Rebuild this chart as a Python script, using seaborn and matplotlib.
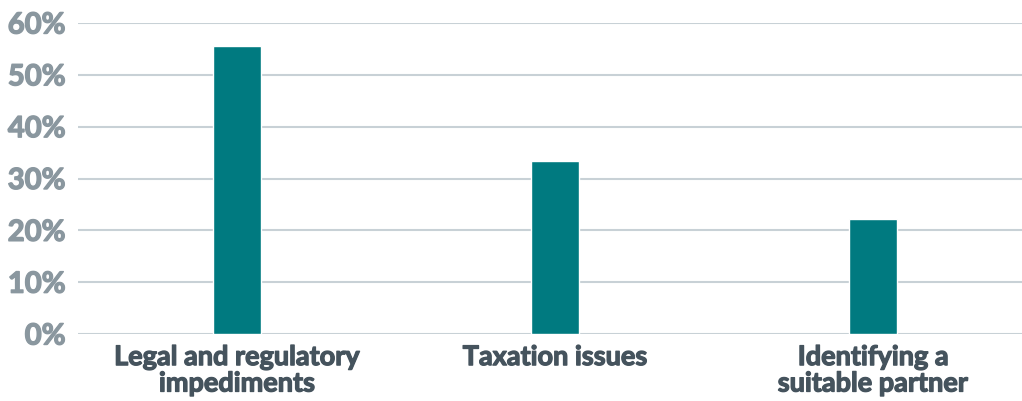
import matplotlib
matplotlib.use("Agg")
import matplotlib.pyplot as plt
import matplotlib.patheffects as pe
import seaborn as sns
import pandas as pd
from matplotlib.ticker import PercentFormatter

categories = ["Legal and regulatory\nimpediments", "Taxation issues", "Identifying a\nsuitable partner"]
shares = [0.556, 0.333, 0.222]
y_ticks = [0.0, 0.1, 0.2, 0.3, 0.4, 0.5, 0.6]

sns.set_theme(style="white")
plt.rcParams["font.family"] = ["Lato", "DejaVu Sans"]

df = pd.DataFrame({"category": categories, "share": shares})

fig = plt.figure(figsize=(10.22, 4.01), dpi=100)
ax = fig.add_axes([78 / 1022, 67 / 401, 944 / 1022, 311 / 401])

sns.barplot(data=df, x="category", y="share", color="#007A80", width=0.15,
            saturation=1, ax=ax, zorder=3)

ax.set_xlim(-0.5, -0.5 + 944 / 318)
ax.set_ylim(0, 0.6)
ax.set_yticks(y_ticks)
ax.yaxis.set_major_formatter(PercentFormatter(1.0, decimals=0))
ax.grid(axis="y", color="#C8D1D6", linewidth=1.5, zorder=0)
ax.set_axisbelow(True)
for s in ax.spines.values():
    s.set_visible(False)
ax.set_xlabel("")
ax.set_ylabel("")
ax.tick_params(axis="y", length=0, pad=9, labelsize=21, labelcolor="#8A979F")
ax.tick_params(axis="x", length=0, pad=8, labelsize=19.5, labelcolor="#45535D")
for lbl in ax.get_yticklabels():
    lbl.set_fontweight("bold")
    lbl.set_path_effects([pe.withStroke(linewidth=1.0, foreground="#8A979F")])
for lbl in ax.get_xticklabels():
    lbl.set_fontweight("bold")
    lbl.set_linespacing(1.12)
    lbl.set_path_effects([pe.withStroke(linewidth=0.9, foreground="#45535D")])

fig.savefig("out.png", dpi=100)
